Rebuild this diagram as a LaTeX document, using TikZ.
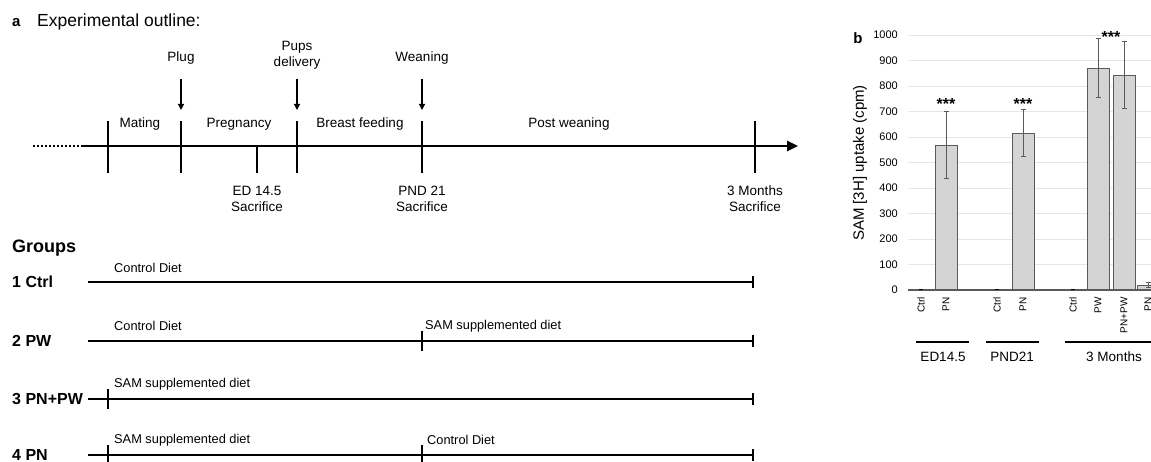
\documentclass[tikz,border=0pt]{standalone}
\usepackage{fontspec}
\setmainfont{Liberation Sans}
\usetikzlibrary{arrows.meta}

\definecolor{barfill}{HTML}{D4D4D4}
\definecolor{bardraw}{HTML}{5A5A5A}
\definecolor{gridgray}{HTML}{E6E6E6}

\tikzset{
  lbl/.style={inner sep=0pt,font=\fontsize{13.5}{16}\selectfont,align=center},
  dietlbl/.style={inner sep=0pt,anchor=west,font=\fontsize{12.8}{15}\selectfont},
  grplbl/.style={inner sep=0pt,anchor=west,font=\fontsize{16}{18}\selectfont\bfseries},
  tick/.style={line width=1.3pt},
  mainline/.style={line width=2.6pt},
  rowline/.style={line width=2.4pt,-{Bar[width=12pt,line width=2pt]}},
  evarrow/.style={line width=1.2pt,-{Triangle[length=6pt,width=6pt]}},
  gridline/.style={gridgray,line width=0.8pt},
  bar/.style={fill=barfill,draw=bardraw,line width=1pt},
  errbar/.style={bardraw,line width=0.9pt,{Bar[width=5pt]}-{Bar[width=5pt]}},
  ticklbl/.style={inner sep=0pt,anchor=east,font=\fontsize{11}{13}\selectfont},
  catlbl/.style={inner sep=0pt,rotate=90,anchor=east,font=\fontsize{10}{12}\selectfont},
  stars/.style={inner sep=0pt,font=\fontsize{16}{18}\selectfont\bfseries}
}

\begin{document}
\begin{tikzpicture}[x=1pt,y=-1pt]
\useasboundingbox (0,0) rectangle (1151,462);

% a: experimental outline
\node[inner sep=0pt,anchor=west,font=\fontsize{15}{17}\selectfont\bfseries] (pa) at (12,23) {a};
\node[inner sep=0pt,anchor=west,font=\fontsize{17.5}{20}\selectfont] (outline) at (37,22) {Experimental outline:};

\coordinate (t0) at (33,146);
\coordinate (t1) at (83,146);
\coordinate (tend) at (798,146);
\draw[mainline,dash pattern=on 2pt off 2pt] (t0) -- (t1);
\draw[mainline,-{Triangle[length=11pt,width=10pt]}] (t1) -- (tend);

\foreach \x in {108,181,297,422,755}
  \draw[tick] (\x,121) -- (\x,173);
\draw[tick] (257,146) -- (257,173);

\node[lbl] (mating) at (140,124) {Mating};
\node[lbl] (pregnancy) at (239,124) {Pregnancy};
\node[lbl] (feeding) at (360,124) {Breast feeding};
\node[lbl] (postwean) at (569,124) {Post weaning};

\node[lbl] (plug) at (181,58) {Plug};
\node[lbl] (pups) at (297,55) {Pups\\delivery};
\node[lbl] (weaning) at (422,58) {Weaning};
\coordinate (plugtip) at (181,110);
\coordinate (pupstip) at (297,110);
\coordinate (weantip) at (422,110);
\draw[evarrow] (plug.south |- 0,79) -- (plugtip);
\draw[evarrow] (pups.south |- 0,79) -- (pupstip);
\draw[evarrow] (weaning.south |- 0,79) -- (weantip);

\node[lbl] (ed) at (257,199) {ED 14.5\\Sacrifice};
\node[lbl] (pnd) at (422,199) {PND 21\\Sacrifice};
\node[lbl] (months) at (755,199) {3 Months\\Sacrifice};

% groups
\node[inner sep=0pt,anchor=west,font=\fontsize{18}{20}\selectfont\bfseries] (groups) at (12,248) {Groups};
\foreach \y/\name [count=\i] in {282/1 Ctrl,341/2 PW,399/3 PN+PW,455/4 PN}{
  \node[grplbl] (g\i) at (12,\y) {\name};
  \coordinate (g\i s) at (88,\y);
  \coordinate (g\i e) at (754,\y);
  \draw[rowline] (g\i s) -- (g\i e);
}
\draw[tick] (422,331) -- (422,351);
\draw[tick] (108,389) -- (108,409);
\draw[tick] (108,445) -- (108,465);
\draw[tick] (422,445) -- (422,465);

\node[dietlbl] (d1) at (114,268) {Control Diet};
\node[dietlbl] (d2) at (114,326) {Control Diet};
\node[dietlbl] (d2b) at (425,326) {SAM supplemented diet};
\node[dietlbl] (d3) at (114,384) {SAM supplemented diet};
\node[dietlbl] (d4) at (114,440) {SAM supplemented diet};
\node[dietlbl] (d4b) at (427,440) {Control Diet};

% b: uptake
\node[inner sep=0pt,font=\fontsize{15}{17}\selectfont\bfseries] (pb) at (858,38) {b};
\node[inner sep=0pt,rotate=90,font=\fontsize{15}{17}\selectfont] (ytitle) at (860,163) {SAM [3H] uptake (cpm)};

\begin{scope}
\clip (830,0) rectangle (1151,462);
\begin{scope}[shift={(0,290)},y=0.255pt]
  \foreach \v in {100,200,...,1000}
    \draw[gridline] (908,\v) -- (1151,\v);
  \foreach \v in {0,100,...,1000}
    \node[ticklbl] at (898,\v) {\v};
  \draw[bardraw,line width=1.2pt] (908,0) -- (1151,0);
  \foreach \x in {921,997,1073}
    \draw[line width=1pt] (\x-2,3) -- (\x+2,3);
  \foreach \x/\v/\lo/\hi in {946/567/435/700,1023/613/520/710,1098/870/755/990,1124/840/710/975,1148/18/8/30}{
    \draw[bar] (\x-11,0) rectangle (\x+11,\v);
    \draw[errbar] (\x,\lo) -- (\x,\hi);
  }
  \node[stars] (s1) at (946,728) {***};
  \node[stars] (s2) at (1023,728) {***};
  \node[stars] (s3) at (1111,993) {***};
\end{scope}
\foreach \x/\name in {921/Ctrl,946/PN,997/Ctrl,1023/PN,1073/Ctrl,1098/PW,1124/PN+PW,1148/PN}
  \node[catlbl] at (\x,297) {\name};
\coordinate (ed1) at (916,342);
\coordinate (ed2) at (969,342);
\coordinate (pn1) at (986,342);
\coordinate (pn2) at (1039,342);
\coordinate (mo1) at (1065,342);
\coordinate (mo2) at (1160,342);
\draw[line width=1.4pt] (ed1) -- (ed2);
\draw[line width=1.4pt] (pn1) -- (pn2);
\draw[line width=1.4pt] (mo1) -- (mo2);
\node[lbl] (edlbl) at (943,357) {ED14.5};
\node[lbl] (pndlbl) at (1012,357) {PND21};
\node[lbl] (molbl) at (1114,357) {3 Months};
\end{scope}
\end{tikzpicture}
\end{document}
